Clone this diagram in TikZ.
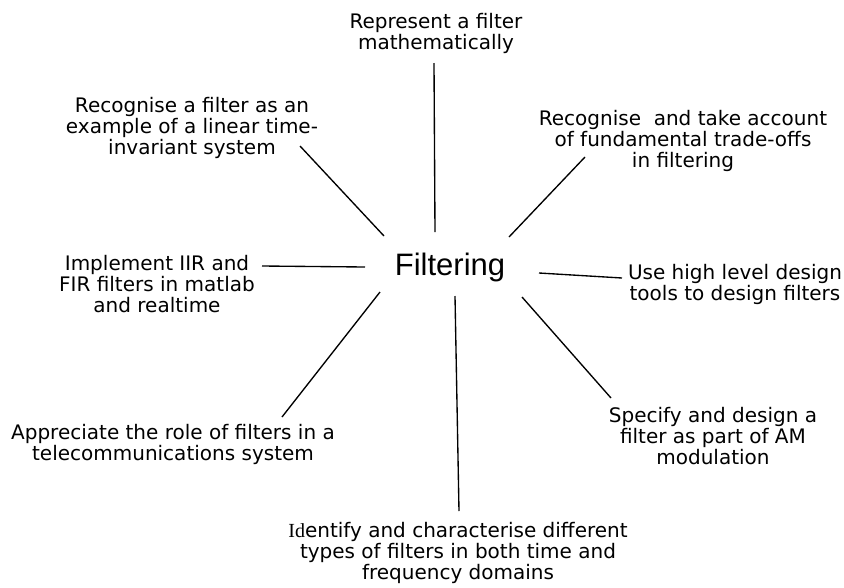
\documentclass[tikz,border=0pt]{standalone}
\usepackage{fontspec}
\setmainfont{DejaVu Sans}
\newfontfamily\hubfont{Liberation Sans}
\newfontfamily\seriffont{Liberation Serif}
\begin{document}
\begin{tikzpicture}[x=1pt,y=-1pt,
  goal/.style={anchor=base,align=center,inner sep=0pt,
    font=\fontsize{20}{21}\selectfont},
  spoke/.style={line width=1.35pt,black}]
\useasboundingbox (0,0) rectangle (844,587);

% central topic
\node[anchor=base,inner sep=0pt,font=\hubfont\fontsize{31}{34}\selectfont] (hub) at (450,275) {Filtering};

% learning outcomes around it (positions give the baseline of the last line)
\node[goal] (math) at (436,49) {Represent a filter\\mathematically};
\node[goal] (lti) at (192,154) {Recognise a filter as an\\example of a linear time-\\invariant system};
\node[goal] (trade) at (683,167) {Recognise~ and take account\\of fundamental trade-offs\\in filtering};
\node[goal] (impl) at (157,312) {Implement IIR and\\FIR filters in matlab\\and realtime};
\node[goal] (tools) at (735,300) {Use high level design\\tools to design filters};
\node[goal] (tele) at (173,460) {Appreciate the role of filters in a\\telecommunications system};
\node[goal] (am) at (713,464) {Specify and design a\\filter as part of AM\\modulation};
\node[goal] (ident) at (458,579) {{\seriffont Id}entify and characterise different\\types of filters in both time and\\frequency domains};

% spoke end points
\coordinate (m1) at (434,63);  \coordinate (m2) at (435,232);
\coordinate (l1) at (300,146); \coordinate (l2) at (384,236);
\coordinate (t1) at (585,157); \coordinate (t2) at (509,237);
\coordinate (i1) at (262,266); \coordinate (i2) at (365,267);
\coordinate (u1) at (622,278); \coordinate (u2) at (539,273);
\coordinate (a1) at (611,398); \coordinate (a2) at (522,297);
\coordinate (c1) at (282,417); \coordinate (c2) at (380,292);
\coordinate (d1) at (459,511); \coordinate (d2) at (455,296);

\draw[spoke] (m1) -- (m2);
\draw[spoke] (l1) -- (l2);
\draw[spoke] (t1) -- (t2);
\draw[spoke] (i1) -- (i2);
\draw[spoke] (u1) -- (u2);
\draw[spoke] (a1) -- (a2);
\draw[spoke] (c1) -- (c2);
\draw[spoke] (d1) -- (d2);
\end{tikzpicture}
\end{document}
